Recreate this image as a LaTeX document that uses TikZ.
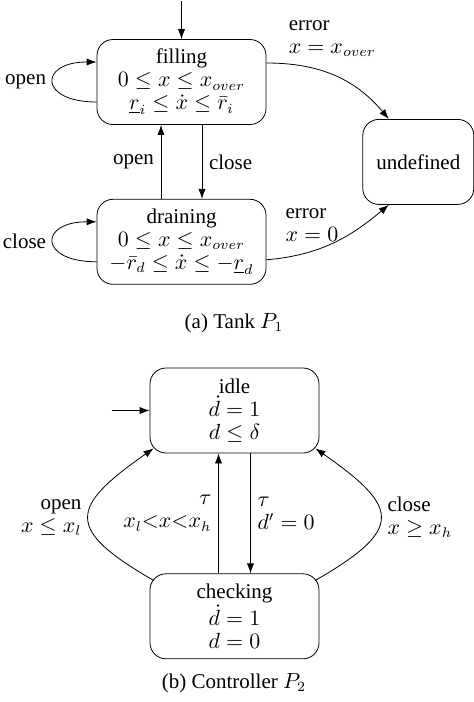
\documentclass[tikz,border=0pt]{standalone}
\usepackage{amsmath,amssymb}
\usepackage{fontspec}
\setmainfont{Liberation Serif}
\usepackage{tikz}
\usetikzlibrary{positioning,arrows.meta,calc}

\begin{document}
\begin{tikzpicture}[>={Latex[length=5pt,width=3.6pt]}, font=\fontsize{10.5}{11.5}\selectfont,
    state_node/.style={draw, rectangle, rounded corners=8pt, align=center, minimum width=84.5pt, minimum height=42.5pt}]
    \useasboundingbox (0,0) rectangle (237pt,-351pt);

    % (a) tank
    \node[state_node] (filling) at (90.75pt,-41pt) {filling\\$0 \leq x \leq x_{over}$\\$\underline{r}_i \leq \dot{x} \leq \bar{r}_i$};
    \node[state_node, below=37pt of filling] (draining) {draining\\$0 \leq x \leq x_{over}$\\$-\bar{r}_d \leq \dot{x} \leq -\underline{r}_d$};
    \coordinate (mid) at ($(filling.east)!0.5!(draining.east)$);
    \node[state_node, minimum width=55.5pt, right=48pt of mid] (undef) {undefined};
    \coordinate[above=19pt of filling] (init1);
    \node (capa) at (117pt,-161.5pt) {(a) Tank $P_1$};

    \draw[->] (init1) -- (filling);
    \draw[->] ([yshift=-10pt]filling.west) .. controls +(-29pt,0) and +(-29pt,0) .. node[left] {open} ([yshift=10pt]filling.west);
    \draw[->] ([yshift=-10pt]draining.west) .. controls +(-29pt,0) and +(-29pt,0) .. node[left] {close} ([yshift=10pt]draining.west);
    \draw[->] ([xshift=-10.25pt]draining.north) -- node[left] {open} ([xshift=-10.25pt]filling.south);
    \draw[->] ([xshift=10.25pt]filling.south) -- node[right] {close} ([xshift=10.25pt]draining.north);
    \draw[->] ([yshift=9.5pt]filling.east) to[out=0, in=130] node[pos=0.1, above right, align=left] {error\\$x = x_{over}$} ([xshift=-14.75pt]undef.north);
    \draw[->] ([yshift=-9pt]draining.east) to[out=5, in=-140] node[pos=0.08, above right, yshift=5pt, align=left] {error\\$x = 0$} ([xshift=-14.75pt]undef.south);

    % (b) controller
    \node[state_node] (idle) at (117.25pt,-205.25pt) {idle\\$\dot{d} = 1$\\$d \leq \delta$};
    \node[state_node, below=60pt of idle] (checking) {checking\\$\dot{d} = 1$\\$d = 0$};
    \coordinate[left=19pt of idle] (init2);
    \node (capb) at (117pt,-341.5pt) {(b) Controller $P_2$};

    \draw[->] (init2) -- (idle);
    \draw[->] ([xshift=-8pt]checking.north) -- node[left, align=right] {$\tau$\\$x_l{<}x{<}x_h$} ([xshift=-8pt]idle.south);
    \draw[->] ([xshift=8pt]idle.south) -- node[right, align=left] {$\tau$\\$d' = 0$} ([xshift=8pt]checking.north);
    \draw[->] ([shift={(2pt,-3.5pt)}]checking.north west) to[out=150, in=215, looseness=2] node[left, align=right] {open\\$x \leq x_l$} ([shift={(2pt,2.5pt)}]idle.south west);
    \draw[->] ([shift={(-2pt,-3.5pt)}]checking.north east) to[out=30, in=-35, looseness=2] node[right, align=left] {close\\$x \geq x_h$} ([shift={(-2pt,2.5pt)}]idle.south east);
\end{tikzpicture}
\end{document}
